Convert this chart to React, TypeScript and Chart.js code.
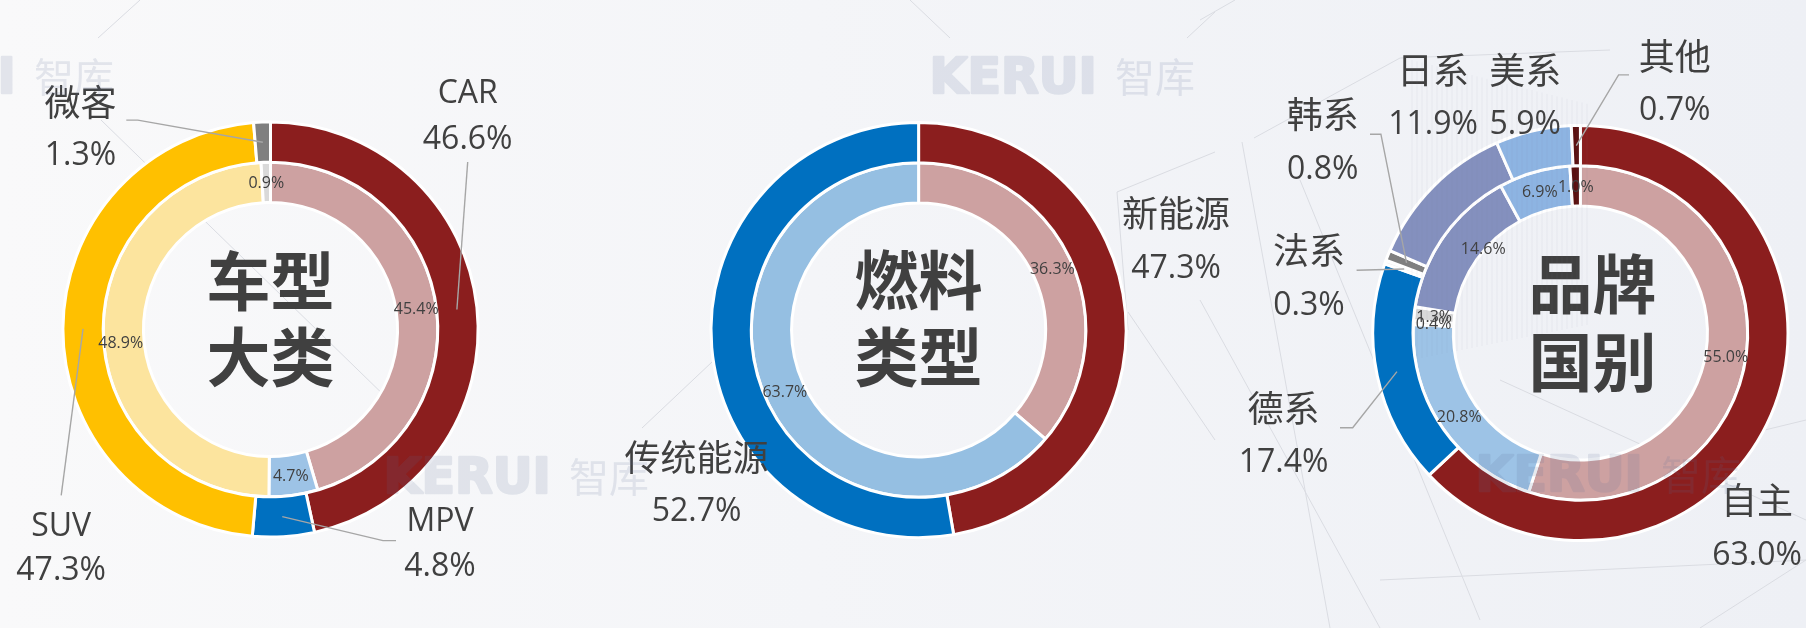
import React, { useEffect, useRef } from "react";
import { Chart, registerables } from "chart.js";
Chart.register(...registerables);

// ---------- data ----------
// Chart 1: 车型大类
const typeLabels = ["CAR", "MPV", "SUV", "微客"];
const typeOuter = [46.6, 4.8, 47.3, 1.3];
const typeInner = [45.4, 4.7, 48.9, 0.9];

// Chart 2: 燃料类型
const fuelLabels = ["新能源", "传统能源"];
const fuelOuter = [47.3, 52.7];
const fuelInner = [36.3, 63.7];

// Chart 3: 品牌国别
const brandLabels = ["自主", "德系", "法系", "韩系", "日系", "美系", "其他"];
const brandOuter = [63.0, 17.4, 0.3, 0.8, 11.9, 5.9, 0.7];
const brandInner = [55.0, 20.8, 0.4, 1.3, 14.6, 6.9, 1.0];

const titles = [
  ["车型", "大类"],
  ["燃料", "类型"],
  ["品牌", "国别"],
];

// ---------- styles / layout ----------
const W = 1806;
const H = 628;
const RADIUS = 207.6;
const CUTOUT = "61.2%";
const TEXT = "#404040";
const LEADER = "#A6A6A6";

const typeOuterColors = ["#8B1E1E", "#0070C0", "#FFC000", "#808080"];
const typeInnerColors = ["#CDA1A1", "#9DC3E6", "#FCE49E", "#D9D9D9"];
const fuelOuterColors = ["#8B1E1E", "#0070C0"];
const fuelInnerColors = ["#CDA1A1", "#95BFE2"];
const brandOuterColors = ["#8B1E1E", "#0070C0", "#F2F2F2", "#7F7F7F", "#8490BE", "#8DB4E2", "#5A1010"];
const brandInnerColors = ["#CDA1A1", "#9DC3E6", "#F2F2F2", "#D9D9D9", "#8490BE", "#8DB4E2", "#5A1010"];

type LabelPos = { x: number; y1: number; y2: number; leader?: number[][] };

const typeLabelPos: LabelPos[] = [
  { x: 467.7, y1: 92, y2: 138, leader: [[467.7, 162]] },
  { x: 440, y1: 519.4, y2: 564.7, leader: [[383, 540.6], [396, 540.6]] },
  { x: 61.2, y1: 524.6, y2: 568.7, leader: [[61.2, 495.4]] },
  { x: 80.4, y1: 102, y2: 154, leader: [[137.8, 120.1], [126.3, 120.1]] },
];
const fuelLabelPos: LabelPos[] = [
  { x: 1176, y1: 213.3, y2: 266.7 },
  { x: 696.6, y1: 457.6, y2: 509.6 },
];
const brandLabelPos: LabelPos[] = [
  { x: 1757, y1: 500, y2: 553.3 },
  { x: 1283.5, y1: 408.5, y2: 460.6, leader: [[1352.7, 427.7], [1340, 427.7]] },
  { x: 1309, y1: 250.3, y2: 303.6, leader: [[1356.6, 270.3]] },
  { x: 1322.7, y1: 114.1, y2: 167.4, leader: [[1380.9, 134.2], [1370, 134.2]] },
  { x: 1433, y1: 70.1, y2: 122.1 },
  { x: 1525.3, y1: 70.1, y2: 122.1 },
  { x: 1674.7, y1: 56, y2: 108.1, leader: [[1618.6, 74.9], [1629, 74.9]] },
];

const typeInnerOffsets = [[0, 0], [0, 0], [-2.6, 9], [0, 0]];
const fuelInnerOffsets = [[0, 0], [0, 0]];
const brandInnerOffsets = [[0, 0], [0, 0], [0, 0], [0, 0], [23, 0.6], [0, 0], [0, 0]];

const chartSpecs = [
  {
    cx: 270.5, cy: 329.5, titleDx: 0, titleY: [281, 357],
    labels: typeLabels, outer: typeOuter, inner: typeInner,
    outerColors: typeOuterColors, innerColors: typeInnerColors,
    labelPos: typeLabelPos, innerOffsets: typeInnerOffsets, title: titles[0],
  },
  {
    cx: 918.6, cy: 330, titleDx: 0, titleY: [280, 356.4],
    labels: fuelLabels, outer: fuelOuter, inner: fuelInner,
    outerColors: fuelOuterColors, innerColors: fuelInnerColors,
    labelPos: fuelLabelPos, innerOffsets: fuelInnerOffsets, title: titles[1],
  },
  {
    cx: 1580.4, cy: 333, titleDx: 12, titleY: [284, 361.7],
    labels: brandLabels, outer: brandOuter, inner: brandInner,
    outerColors: brandOuterColors, innerColors: brandInnerColors,
    labelPos: brandLabelPos, innerOffsets: brandInnerOffsets, title: titles[2],
  },
];

// watermark positions: [left of "KERUI", cap top]
const watermarks = [[-153, 57], [928, 57], [382, 457], [1474, 455]];

const decoLines = [
  [140, 0, 98, 38],
  [101, 120, 430, 440],
  [910, 0, 950, 38],
  [1187, 38, 1215, 12],
  [642, 428, 712, 362],
  [1117, 192, 1215, 152],
  [1117, 192, 1128, 330],
  [1128, 312, 1215, 440],
  [1200, 20, 1235, 0],
  [1254, 138, 1400, 58],
  [1400, 58, 1610, 50],
  [1242, 142, 1330, 628],
  [1200, 300, 1380, 628],
  [1300, 180, 1480, 620],
  [1380, 580, 1806, 560],
  [1600, 470, 1806, 420],
  [1700, 628, 1806, 560],
  [1500, 380, 1806, 520],
];

const CJK = /[\u4e00-\u9fff]/;
const fmt = (v: number) => v.toFixed(1) + "%";

function drawLine(ctx: CanvasRenderingContext2D, text: string, x: number, yCenter: number) {
  if (CJK.test(text)) {
    const size = 36;
    ctx.font = `${size}px "Noto Sans CJK SC", "Open Sans", sans-serif`;
    ctx.fillText(text, x, yCenter + 0.38 * size);
  } else {
    const size = 32;
    ctx.font = `${size}px "Open Sans", "Noto Sans CJK SC", sans-serif`;
    ctx.fillText(text, x, yCenter + 0.357 * size);
  }
}

function drawWatermarks(ctx: CanvasRenderingContext2D) {
  // paint opaque on an offscreen layer, then composite with low alpha
  const layer = document.createElement("canvas");
  layer.width = W;
  layer.height = H;
  const lc = layer.getContext("2d")!;
  lc.fillStyle = "#5A6E96";
  lc.strokeStyle = "#5A6E96";
  lc.lineJoin = "round";
  lc.textAlign = "left";
  watermarks.forEach(([x, capTop]) => {
    lc.font = 'bold 49px "DejaVu Sans", sans-serif';
    lc.lineWidth = 2.5;
    lc.strokeText("KERUI", x + 1.5, capTop + 35.5);
    lc.fillText("KERUI", x + 1.5, capTop + 35.5);
    lc.font = '40px "Noto Sans CJK SC", sans-serif';
    lc.fillText("智库", x + 187, capTop + 35);
  });
  ctx.save();
  ctx.globalAlpha = 0.14;
  ctx.drawImage(layer, 0, 0);
  ctx.restore();
}

function makePlugin(spec: any, withWatermarks: boolean) {
  return {
    id: "labels" + Math.round(spec.cx),
    afterDraw(chart: any) {
      const ctx: CanvasRenderingContext2D = chart.ctx;
      const outerMeta = chart.getDatasetMeta(0);
      const innerMeta = chart.getDatasetMeta(1);
      ctx.save();
      ctx.textAlign = "center";
      ctx.textBaseline = "alphabetic";
      ctx.fillStyle = TEXT;

      // inner percentage labels
      innerMeta.data.forEach((arc: any, i: number) => {
        const p = arc.tooltipPosition(false);
        const off = spec.innerOffsets[i] || [0, 0];
        ctx.font = '16px "Open Sans", sans-serif';
        ctx.fillText(fmt(spec.inner[i]), p.x + off[0], p.y + off[1] + 0.357 * 16);
      });

      // outer labels with leader lines
      spec.labelPos.forEach((lp: LabelPos, i: number) => {
        const p = outerMeta.data[i].tooltipPosition(false);
        if (lp.leader) {
          ctx.beginPath();
          ctx.moveTo(p.x, p.y);
          lp.leader.forEach(([x, y]) => ctx.lineTo(x, y));
          ctx.strokeStyle = LEADER;
          ctx.lineWidth = 1.4;
          ctx.stroke();
        }
        ctx.fillStyle = TEXT;
        drawLine(ctx, spec.labels[i], lp.x, lp.y1);
        drawLine(ctx, fmt(spec.outer[i]), lp.x, lp.y2);
      });

      // center title
      const size = 64;
      ctx.font = `bold ${size}px "Noto Sans CJK SC", sans-serif`;
      ctx.fillStyle = TEXT;
      spec.title.forEach((t: string, k: number) => {
        ctx.fillText(t, spec.cx + spec.titleDx, spec.titleY[k] + 0.38 * size);
      });
      ctx.restore();

      if (withWatermarks) drawWatermarks(ctx);
    },
  };
}

function ChartCanvas({ spec, last }: { spec: any; last: boolean }) {
  const ref = useRef<HTMLCanvasElement>(null);
  useEffect(() => {
    const canvas = ref.current!;
    const chart = new Chart(canvas, {
      type: "doughnut",
      data: {
        labels: spec.labels,
        datasets: [
          { data: spec.outer, backgroundColor: spec.outerColors, borderColor: "#FFFFFF", borderWidth: 3 },
          { data: spec.inner, backgroundColor: spec.innerColors, borderColor: "#FFFFFF", borderWidth: 3 },
        ],
      },
      options: {
        responsive: false,
        animation: false,
        devicePixelRatio: 1,
        events: [],
        radius: RADIUS,
        cutout: CUTOUT,
        rotation: 0,
        circumference: 360,
        layout: {
          padding: {
            left: spec.cx - RADIUS,
            right: W - spec.cx - RADIUS,
            top: spec.cy - RADIUS,
            bottom: H - spec.cy - RADIUS,
          },
        },
        plugins: { legend: { display: false }, tooltip: { enabled: false }, title: { display: false } },
      } as any,
      plugins: [makePlugin(spec, last)],
    });
    return () => chart.destroy();
  }, []);
  return (
    <canvas
      ref={ref}
      width={W}
      height={H}
      style={{ position: "absolute", left: 0, top: 0, width: W, height: H }}
    />
  );
}

export default function App() {
  const curtain: number[] = [];
  for (let x = 1412; x <= 1590; x += 5) curtain.push(x);
  return (
    <div
      style={{
        position: "absolute",
        left: 0,
        top: 0,
        width: W,
        height: H,
        overflow: "hidden",
        background: "linear-gradient(90deg, #F9F9FA 0%, #F4F5F8 45%, #EEF0F5 100%)",
      }}
    >
      <svg width={W} height={H} style={{ position: "absolute", left: 0, top: 0 }}>
        {decoLines.map((l, i) => (
          <line key={i} x1={l[0]} y1={l[1]} x2={l[2]} y2={l[3]} stroke="#DADCE2" strokeWidth={1} />
        ))}
      </svg>
      {chartSpecs.map((s, i) => (
        <ChartCanvas key={i} spec={s} last={i === chartSpecs.length - 1} />
      ))}
      <svg width={W} height={H} style={{ position: "absolute", left: 0, top: 0, pointerEvents: "none" }}>
        {curtain.map((x, i) => (
          <line key={i} x1={x} y1={60 + (x - 1412) * 0.25} x2={x} y2={360 - (x - 1412) * 0.2} stroke="rgba(140,140,150,0.08)" strokeWidth={1} />
        ))}
      </svg>
    </div>
  );
}
